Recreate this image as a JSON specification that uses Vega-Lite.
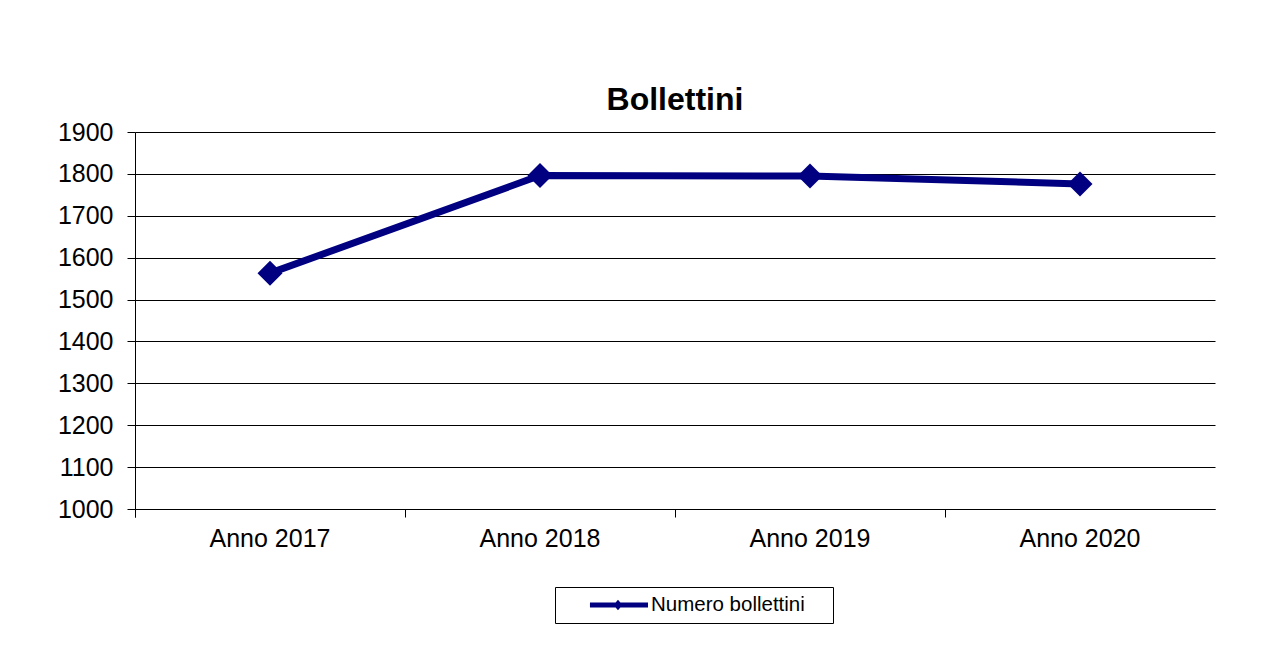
{
  "$schema": "https://vega.github.io/schema/vega-lite/v6.json",
  "width": 1080,
  "height": 377,
  "autosize": {"type": "none"},
  "padding": {"left": 135, "top": 132, "right": 71, "bottom": 144},
  "background": "white",
  "title": {
    "text": "Bollettini",
    "fontSize": 32,
    "fontWeight": "bold",
    "font": "Liberation Sans",
    "color": "#000000",
    "anchor": "middle",
    "offset": 3
  },
  "data": {
    "values": [
      {"anno": "Anno 2017", "valore": 1563, "serie": "Numero bollettini"},
      {"anno": "Anno 2018", "valore": 1796, "serie": "Numero bollettini"},
      {"anno": "Anno 2019", "valore": 1795, "serie": "Numero bollettini"},
      {"anno": "Anno 2020", "valore": 1776, "serie": "Numero bollettini"}
    ]
  },
  "encoding": {
    "x": {
      "field": "anno",
      "type": "nominal",
      "sort": null,
      "scale": {"type": "band", "paddingInner": 0, "paddingOuter": 0},
      "axis": {
        "title": null,
        "bandPosition": 0,
        "tickExtra": true,
        "grid": false,
        "labelAngle": 0,
        "labelFont": "Liberation Sans",
        "labelFontSize": 25,
        "labelColor": "#000000",
        "labelPadding": 9,
        "domainColor": "#000000",
        "tickColor": "#000000",
        "tickSize": 8
      }
    },
    "y": {
      "field": "valore",
      "type": "quantitative",
      "scale": {"domain": [1000, 1900], "nice": false, "zero": false},
      "axis": {
        "title": null,
        "values": [1000, 1100, 1200, 1300, 1400, 1500, 1600, 1700, 1800, 1900],
        "format": "d",
        "grid": true,
        "gridColor": "#000000",
        "gridOpacity": 1,
        "labelFont": "Liberation Sans",
        "labelFontSize": 25,
        "labelColor": "#000000",
        "labelPadding": 14,
        "domainColor": "#000000",
        "tickColor": "#000000",
        "tickSize": 8
      }
    }
  },
  "layer": [
    {
      "mark": {"type": "line", "color": "#000080", "strokeWidth": 7}
    },
    {
      "mark": {"type": "point", "shape": "diamond", "filled": true, "size": 625, "opacity": 1},
      "encoding": {
        "color": {
          "field": "serie",
          "type": "nominal",
          "scale": {"range": ["#000080"]},
          "legend": {
            "title": null,
            "orient": "none",
            "legendX": 420,
            "legendY": 455,
            "padding": 7,
            "strokeColor": "#000000",
            "fillColor": "#ffffff",
            "clipHeight": 22,
            "symbolType": "M-0.35,-0.058H1V0.058H-0.35Z M0.197,0L0.302,-0.12L0.407,0L0.302,0.12Z",
            "symbolSize": 7396,
            "symbolFillColor": "#000080",
            "symbolStrokeWidth": 0,
            "symbolOpacity": 1,
            "labelOffset": 3,
            "labelLimit": 400,
            "labelFont": "Liberation Sans",
            "labelFontSize": 20.5,
            "labelColor": "#000000",
            "labelExpr": "datum.label + '\u00a0\u2800'"
          }
        }
      }
    }
  ],
  "config": {
    "view": {"stroke": null},
    "font": "Liberation Sans"
  }
}
